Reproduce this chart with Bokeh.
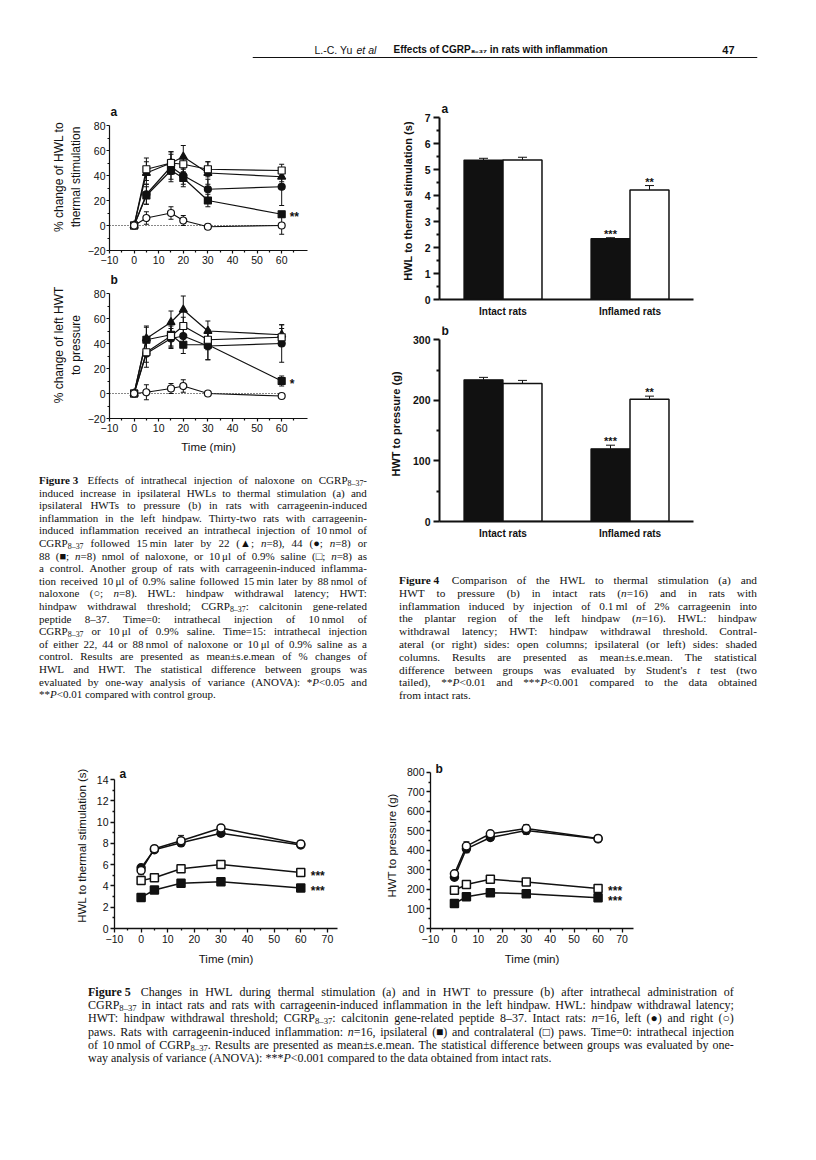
from bokeh.plotting import figure
from bokeh.models import (Range1d, FixedTicker, Whisker, TeeHead, ColumnDataSource,
                          Span, Label, Div, Spacer)
from bokeh.layouts import column, row
from bokeh.embed import file_html
from bokeh.resources import INLINE
from bokeh.core.properties import value

SANS = "Liberation Sans"
SERIF = "Liberation Serif"
INK = "#111111"

# ---------------- Figure 3 data (% change) ----------------
f3_time = [0, 5, 15, 20, 30, 60]
f3_ticks_x = [-10, 0, 10, 20, 30, 40, 50, 60]
f3_ticks_y = [-20, 0, 20, 40, 60, 80]

f3a_nal22 = [0, 42, 50, 55, 42, 39]
f3a_nal22_err = [0, 9, 9, 9, 9, 4]
f3a_nal44 = [0, 25, 47, 40, 29, 31]
f3a_nal44_err = [0, 8, 10, 7, 8, 15]
f3a_nal88 = [0, 24, 44, 38, 20, 9]
f3a_nal88_err = [0, 7, 9, 7, 5, 2]
f3a_saline = [0, 45, 50, 49, 45, 44]
f3a_saline_err = [0, 9, 9, 6, 6, 5]
f3a_ctrl = [0, 6, 10, 4, -1, 0]
f3a_ctrl_err = [0, 5, 5, 4, 2, 7]
f3a_sig = "**"

f3b_nal22 = [0, 44, 57, 67, 50, 47]
f3b_nal22_err = [0, 10, 9, 11, 8, 8]
f3b_nal44 = [0, 32, 44, 46, 38, 40]
f3b_nal44_err = [0, 11, 8, 8, 11, 15]
f3b_nal88 = [0, 43, 47, 39, 39, 10]
f3b_nal88_err = [0, 10, 10, 7, 12, 4]
f3b_saline = [0, 33, 46, 54, 43, 45]
f3b_saline_err = [0, 8, 8, 7, 8, 7]
f3b_ctrl = [0, 1, 4, 6, 0, -2]
f3b_ctrl_err = [0, 6, 4, 5, 1, 1]
f3b_sig = "*"

# ---------------- Figure 4 data ----------------
f4_groups = ["Intact rats", "Inflamed rats"]
f4a_left = [5.37, 2.34]
f4a_left_err = [0.07, 0.04]
f4a_right = [5.37, 4.22]
f4a_right_err = [0.11, 0.17]
f4a_left_sig = ["", "***"]
f4a_right_sig = ["", "**"]
f4b_left = [234, 120]
f4b_left_err = [4, 6]
f4b_right = [228, 202]
f4b_right_err = [5, 5]
f4b_left_sig = ["", "***"]
f4b_right_sig = ["", "**"]

# ---------------- Figure 5 data ----------------
f5_time = [0, 5, 15, 30, 60]
f5a_intact_left = [5.7, 7.4, 8.05, 8.95, 7.85]
f5a_intact_left_err = [0.3, 0.2, 0.3, 0.3, 0.25]
f5a_intact_right = [5.45, 7.5, 8.25, 9.45, 7.95]
f5a_intact_right_err = [0.4, 0.2, 0.5, 0.3, 0.3]
f5a_infl_contra = [4.5, 4.77, 5.62, 6.02, 5.26]
f5a_infl_contra_err = [0.15, 0.15, 0.15, 0.15, 0.15]
f5a_infl_ipsi = [2.92, 3.62, 4.26, 4.4, 3.8]
f5a_infl_ipsi_err = [0.1, 0.1, 0.1, 0.1, 0.1]
f5b_intact_left = [263, 408, 466, 502, 459]
f5b_intact_left_err = [10, 20, 15, 20, 10]
f5b_intact_right = [280, 422, 485, 512, 461]
f5b_intact_right_err = [10, 22, 13, 20, 10]
f5b_infl_contra = [196, 225, 252, 238, 205]
f5b_infl_contra_err = [5, 5, 5, 5, 5]
f5b_infl_ipsi = [128, 162, 183, 178, 157]
f5b_infl_ipsi_err = [4, 4, 4, 4, 4]
f5_sig = ["***", "***"]

# ---------------- captions ----------------
cap3_lines = [
    "<b>Figure&nbsp;3</b>&nbsp; Effects of intrathecal injection of naloxone on CGRP<sub>8–37</sub>-",
    "induced increase in ipsilateral HWLs to thermal stimulation (a) and",
    "ipsilateral HWTs to pressure (b) in rats with carrageenin-induced",
    "inflammation in the left hindpaw. Thirty-two rats with carrageenin-",
    "induced inflammation received an intrathecal injection of 10\u2009nmol of",
    "CGRP<sub>8–37</sub> followed 15\u2009min later by 22 (▲; <i>n</i>=8), 44 (●; <i>n</i>=8) or",
    "88 (■; <i>n</i>=8) nmol of naloxone, or 10\u2009μl of 0.9% saline (□; <i>n</i>=8) as",
    "a control. Another group of rats with carrageenin-induced inflamma-",
    "tion received 10\u2009μl of 0.9% saline followed 15\u2009min later by 88\u2009nmol of",
    "naloxone (○; <i>n</i>=8). HWL: hindpaw withdrawal latency; HWT:",
    "hindpaw withdrawal threshold; CGRP<sub>8–37</sub>: calcitonin gene-related",
    "peptide 8–37. Time=0: intrathecal injection of 10\u2009nmol of",
    "CGRP<sub>8–37</sub> or 10\u2009μl of 0.9% saline. Time=15: intrathecal injection",
    "of either 22, 44 or 88\u2009nmol of naloxone or 10\u2009μl of 0.9% saline as a",
    "control. Results are presented as mean±s.e.mean of % changes of",
    "HWL and HWT. The statistical difference between groups was",
    "evaluated by one-way analysis of variance (ANOVA): *<i>P</i>&lt;0.05 and",
    "**<i>P</i>&lt;0.01 compared with control group.",
]
cap4_lines = [
    "<b>Figure&nbsp;4</b>&nbsp; Comparison of the HWL to thermal stimulation (a) and",
    "HWT to pressure (b) in intact rats (<i>n</i>=16) and in rats with",
    "inflammation induced by injection of 0.1\u2009ml of 2% carrageenin into",
    "the plantar region of the left hindpaw (<i>n</i>=16). HWL: hindpaw",
    "withdrawal latency; HWT: hindpaw withdrawal threshold. Contral-",
    "ateral (or right) sides: open columns; ipsilateral (or left) sides: shaded",
    "columns. Results are presented as mean±s.e.mean. The statistical",
    "difference between groups was evaluated by Student's <i>t</i> test (two",
    "tailed), **<i>P</i>&lt;0.01 and ***<i>P</i>&lt;0.001 compared to the data obtained",
    "from intact rats.",
]
cap5_lines = [
    "<b>Figure&nbsp;5</b>&nbsp; Changes in HWL during thermal stimulation (a) and in HWT to pressure (b) after intrathecal administration of",
    "CGRP<sub>8–37</sub> in intact rats and rats with carrageenin-induced inflammation in the left hindpaw. HWL: hindpaw withdrawal latency;",
    "HWT: hindpaw withdrawal threshold; CGRP<sub>8–37</sub>: calcitonin gene-related peptide 8–37. Intact rats: <i>n</i>=16, left (●) and right (○)",
    "paws. Rats with carrageenin-induced inflammation: <i>n</i>=16, ipsilateral (■) and contralateral (□) paws. Time=0: intrathecal injection",
    "of 10\u2009nmol of CGRP<sub>8–37</sub>. Results are presented as mean±s.e.mean. The statistical difference between groups was evaluated by one-",
    "way analysis of variance (ANOVA): ***<i>P</i>&lt;0.001 compared to the data obtained from intact rats.",
]


# ---------------- helpers ----------------
def make_panel(box, frame, xr, yr):
    bx, by, bw, bh = box
    fl, fr, ft, fb = frame
    p = figure(width=bw, height=bh, x_range=Range1d(*xr), y_range=Range1d(*yr),
               min_border_left=fl - bx, min_border_right=bx + bw - fr,
               min_border_top=ft - by, min_border_bottom=by + bh - fb,
               output_backend="svg", toolbar_location=None, tools="")
    p.xgrid.visible = False
    p.ygrid.visible = False
    p.outline_line_color = None
    p.background_fill_color = "white"
    p.border_fill_color = "white"
    return p


def style_axis(ax, size="10.5px", bold=False, lw=1.2, maj=4, mnr=2,
               label_size="12px", label_bold=False, label_standoff=6, tick_standoff=3):
    ax.axis_line_width = lw
    ax.axis_line_color = INK
    ax.major_tick_line_width = lw
    ax.major_tick_line_color = INK
    ax.minor_tick_line_width = lw
    ax.minor_tick_line_color = INK
    ax.major_tick_in = 0
    ax.major_tick_out = maj
    ax.minor_tick_in = 0
    ax.minor_tick_out = mnr
    ax.major_label_text_font = SANS
    ax.major_label_text_font_size = size
    ax.major_label_text_font_style = "bold" if bold else "normal"
    ax.major_label_text_color = INK
    ax.major_label_standoff = tick_standoff
    ax.axis_label_text_font = SANS
    ax.axis_label_text_font_size = label_size
    ax.axis_label_text_font_style = "bold" if label_bold else "normal"
    ax.axis_label_text_color = INK
    ax.axis_label_standoff = label_standoff


def series_source(x, y, err):
    return ColumnDataSource(dict(x=x, y=y,
                                 lo=[a - b for a, b in zip(y, err)],
                                 hi=[a + b for a, b in zip(y, err)]))


def add_whisker(p, src, tee, lower=True):
    w = Whisker(source=src, base="x", lower="lo" if lower else "y", upper="hi",
                dimension="height", line_color=INK, line_width=1,
                upper_head=TeeHead(size=tee, line_color=INK, line_width=1),
                lower_head=TeeHead(size=tee, line_color=INK, line_width=1) if lower else None,
                level="underlay")
    p.add_layout(w)


def draw_lines_markers(p, specs, msize, lw, tee):
    srcs = []
    for (x, y, err, marker, filled) in specs:
        src = series_source(x, y, err)
        srcs.append((src, marker, filled))
        add_whisker(p, src, tee)
        p.line("x", "y", source=src, line_color=INK, line_width=lw)
    for src, marker, filled in srcs:
        sz = msize + (1 if marker == "triangle" else 0)
        p.scatter("x", "y", source=src, marker=marker, size=sz,
                  fill_color=INK if filled else "white", line_color=INK, line_width=lw)


def panel_letter(p, x, y, letter, size="12px", xoff=1):
    p.text(x=[x], y=[y], text=[letter], text_font=value(SANS), text_font_size=size,
           text_font_style="bold", text_color=INK, text_baseline="middle",
           text_align="left", x_offset=xoff)


def caption_div(lines, width, left_pad, top_pad, box_w, box_h, font_px, line_px):
    rows = []
    for i, ln in enumerate(lines):
        if i == len(lines) - 1:
            rows.append(f'<div style="height:{line_px}px;white-space:nowrap;">{ln}</div>')
        else:
            spans = "".join(f"<span>{w}</span>" for w in ln.split(" "))
            rows.append(f'<div style="height:{line_px}px;white-space:nowrap;display:flex;'
                        f'justify-content:space-between;">{spans}</div>')
    css = "<style>sub{font-size:0.72em;line-height:0;vertical-align:-0.28em;}</style>"
    html = (css + f'<div style="margin-left:{left_pad}px;padding-top:{top_pad}px;width:{width}px;'
            f"font-family:'{SERIF}',serif;font-size:{font_px}px;line-height:{line_px}px;color:#111;\">"
            + "".join(rows) + "</div>")
    return Div(text=html, width=box_w, height=box_h, margin=(0, 0, 0, 0))


# ---------------- header ----------------
hdr = figure(width=800, height=70, x_range=Range1d(260, 765), y_range=Range1d(78, 8),
             x_axis_type=None, y_axis_type=None, min_border_left=252, min_border_right=43,
             min_border_top=0, min_border_bottom=0, output_backend="svg",
             toolbar_location=None, tools="")
hdr.outline_line_color = None
hdr.add_layout(Label(x=322, y=57, text="L.-C. Yu", text_font=SANS, text_font_size="10.5px",
                     text_baseline="middle", text_color=INK))
hdr.add_layout(Label(x=364, y=57, text="et al", text_font=SANS, text_font_size="10.5px",
                     text_font_style="italic", text_baseline="middle", text_color=INK))
hdr.add_layout(Label(x=401, y=57, text="Effects of CGRP₈₋₃₇ in rats with inflammation",
                     text_font=SANS, text_font_size="10px", text_font_style="bold",
                     text_baseline="middle", text_color=INK))
hdr.add_layout(Label(x=742, y=57, text="47", text_font=SANS, text_font_size="11px",
                     text_font_style="bold", text_baseline="middle", text_align="right",
                     text_color=INK))
hdr.add_layout(Span(location=65, dimension="width", line_color=INK, line_width=1.2))


# ---------------- Figure 3 ----------------
def fig3_panel(box, frame, yr, vals, sig, ylabel, letter, xlabel=None):
    p = make_panel(box, frame, (-10, 70.5), yr)
    p.xaxis.ticker = FixedTicker(ticks=f3_ticks_x, minor_ticks=[t + 5 for t in f3_ticks_x])
    p.yaxis.ticker = FixedTicker(ticks=f3_ticks_y, minor_ticks=[t + 10 for t in f3_ticks_y[:-1]])
    p.yaxis.bounds = (f3_ticks_y[0], f3_ticks_y[-1])
    p.xaxis.major_label_overrides = {-10: "\u221210"}
    p.yaxis.major_label_overrides = {-20: "\u221220"}
    style_axis(p.xaxis[0], size="10.5px", maj=3, label_size="11.5px", tick_standoff=2, label_standoff=6)
    style_axis(p.yaxis[0], size="10.5px", maj=3, label_size="12px", tick_standoff=1, label_standoff=2)
    p.yaxis.axis_label = ylabel
    if xlabel:
        p.xaxis.axis_label = xlabel
    p.line(x=[-10, f3_time[-1]], y=[0, 0], line_color=INK, line_width=1, line_dash="1 2")
    (n22, e22), (n44, e44), (n88, e88), (sal, esal), (ctl, ectl) = vals
    specs = [
        (f3_time, n44, e44, "circle", True),
        (f3_time, n88, e88, "square", True),
        (f3_time, n22, e22, "triangle", True),
        (f3_time, sal, esal, "square", False),
        (f3_time, ctl, ectl, "circle", False),
    ]
    draw_lines_markers(p, specs, msize=7, lw=1.2, tee=5)
    p.text(x=[f3_time[-1]], y=[n88[-1]], text=[sig], text_font=value(SANS),
           text_font_size="12px", text_font_style="bold", text_color=INK,
           text_baseline="middle", x_offset=8, y_offset=3)
    panel_letter(p, -10, 90.5, letter)
    return p


p3a = fig3_panel((8, 78, 382, 200), (117, 315, 111, 258), (-20, 97.6),
                 [(f3a_nal22, f3a_nal22_err), (f3a_nal44, f3a_nal44_err),
                  (f3a_nal88, f3a_nal88_err), (f3a_saline, f3a_saline_err),
                  (f3a_ctrl, f3a_ctrl_err)],
                 f3a_sig, "% change of HWL to\nthermal stimulation", "a")
p3b = fig3_panel((8, 278, 382, 195), (117, 315, 279, 426), (-20, 97.6),
                 [(f3b_nal22, f3b_nal22_err), (f3b_nal44, f3b_nal44_err),
                  (f3b_nal88, f3b_nal88_err), (f3b_saline, f3b_saline_err),
                  (f3b_ctrl, f3b_ctrl_err)],
                 f3b_sig, "% change of left HWT\nto pressure", "b", xlabel="Time (min)")

# ---------------- Figure 4 ----------------
grp_x = [1, 2]
bar_w = 0.307


def fig4_panel(box, frame, yr, yticks, yminor, left, left_err, right, right_err,
               lsig, rsig, ylabel, letter, letter_y):
    p = make_panel(box, frame, (0.5, 2.5), yr)
    p.yaxis.ticker = FixedTicker(ticks=yticks, minor_ticks=yminor)
    p.yaxis.bounds = (yticks[0], yticks[-1])
    p.xaxis.ticker = FixedTicker(ticks=grp_x)
    p.xaxis.major_label_overrides = {g: n for g, n in zip(grp_x, f4_groups)}
    style_axis(p.yaxis[0], size="10.5px", bold=True, lw=2, maj=6, mnr=3,
               label_size="11px", label_bold=True, tick_standoff=3, label_standoff=8)
    style_axis(p.xaxis[0], size="10px", bold=True, lw=2, maj=0, mnr=0, tick_standoff=6)
    p.yaxis.axis_label = ylabel
    lx = [g - bar_w / 2 for g in grp_x]
    rx = [g + bar_w / 2 for g in grp_x]
    lsrc = ColumnDataSource(dict(x=lx, y=left, hi=[a + b for a, b in zip(left, left_err)], s=lsig))
    rsrc = ColumnDataSource(dict(x=rx, y=right, hi=[a + b for a, b in zip(right, right_err)], s=rsig))
    add_whisker(p, lsrc, 9, lower=False)
    add_whisker(p, rsrc, 9, lower=False)
    p.vbar(x="x", top="y", bottom=0, width=bar_w, source=lsrc, fill_color=INK,
           line_color=INK, line_width=1.3)
    p.vbar(x="x", top="y", bottom=0, width=bar_w, source=rsrc, fill_color="white",
           line_color=INK, line_width=1.5)
    for src in (lsrc, rsrc):
        p.text(x="x", y="hi", text="s", source=src, text_font=value(SANS),
               text_font_size="11px", text_font_style="bold", text_color=INK,
               text_align="center", text_baseline="bottom", y_offset=2)
    panel_letter(p, 0.5, letter_y, letter, xoff=2)
    return p


p4a = fig4_panel((390, 78, 418, 252), (447, 701, 110, 307), (0, 7.59),
                 list(range(0, 8)), [i + 0.5 for i in range(7)],
                 f4a_left, f4a_left_err, f4a_right, f4a_right_err,
                 f4a_left_sig, f4a_right_sig, "HWL to thermal stimulation (s)", "a", 7.33)
p4b = fig4_panel((390, 330, 418, 222), (447, 701, 334, 529), (0, 322),
                 [0, 100, 200, 300], [50, 150, 250],
                 f4b_left, f4b_left_err, f4b_right, f4b_right_err,
                 f4b_left_sig, f4b_right_sig, "HWT to pressure (g)", "b", 314)

# ---------------- Figure 5 ----------------
f5_ticks_x = [-10, 0, 10, 20, 30, 40, 50, 60, 70]


def fig5_panel(box, frame, xr, yr, yticks, yminor, vals, ylabel, letter, letter_y):
    p = make_panel(box, frame, xr, yr)
    p.xaxis.ticker = FixedTicker(ticks=f5_ticks_x, minor_ticks=[t + 5 for t in f5_ticks_x[:-1]])
    p.yaxis.ticker = FixedTicker(ticks=yticks, minor_ticks=yminor)
    p.yaxis.bounds = (yticks[0], yticks[-1])
    p.xaxis.major_label_overrides = {-10: "\u221210"}
    style_axis(p.xaxis[0], size="10.5px", lw=1.3, label_size="11.5px", tick_standoff=2, label_standoff=7)
    style_axis(p.yaxis[0], size="10.5px", lw=1.3, label_size="11.5px", tick_standoff=2, label_standoff=6)
    p.xaxis.axis_label = "Time (min)"
    p.yaxis.axis_label = ylabel
    (il, eil), (ir, eir), (ic, eic), (ii, eii) = vals
    specs = [
        (f5_time, ii, eii, "square", True),
        (f5_time, ic, eic, "square", False),
        (f5_time, il, eil, "circle", True),
        (f5_time, ir, eir, "circle", False),
    ]
    draw_lines_markers(p, specs, msize=8, lw=1.5, tee=6)
    p.text(x=[f5_time[-1]] * 2, y=[ic[-1], ii[-1]], text=f5_sig, text_font=value(SANS),
           text_font_size="12px", text_font_style="bold", text_color=INK,
           text_baseline="middle", x_offset=10, y_offset=3)
    panel_letter(p, xr[0], letter_y, letter, xoff=5)
    return p


p5a = fig5_panel((8, 760, 382, 230), (122, 345, 765, 936), (-10, 73.8), (0, 15.6),
                 list(range(0, 15, 2)), list(range(1, 14, 2)),
                 [(f5a_intact_left, f5a_intact_left_err), (f5a_intact_right, f5a_intact_right_err),
                  (f5a_infl_contra, f5a_infl_contra_err), (f5a_infl_ipsi, f5a_infl_ipsi_err)],
                 "HWL to thermal stimulation (s)", "a", 14.5)
p5b = fig5_panel((390, 760, 418, 230), (417, 641, 770, 936), (-10, 74.8), (0, 850),
                 list(range(0, 801, 100)), list(range(50, 800, 100)),
                 [(f5b_intact_left, f5b_intact_left_err), (f5b_intact_right, f5b_intact_right_err),
                  (f5b_infl_contra, f5b_infl_contra_err), (f5b_infl_ipsi, f5b_infl_ipsi_err)],
                 "HWT to pressure (g)", "b", 815)

# ---------------- captions ----------------
cap3 = caption_div(cap3_lines, 328, 39, 9, 382, 247, 11, 12.6)
cap4 = caption_div(cap4_lines, 358, 17, 30, 418, 168, 11.3, 12.8)
cap5 = caption_div(cap5_lines, 646, 88, 4, 800, 110, 12, 13.2)

page = column(
    hdr,
    row(column(p3a, p3b, cap3), column(p4a, p4b, cap4)),
    Spacer(width=800, height=40),
    row(p5a, p5b),
    cap5,
)

open("out.html", "w").write(file_html(page, INLINE))
